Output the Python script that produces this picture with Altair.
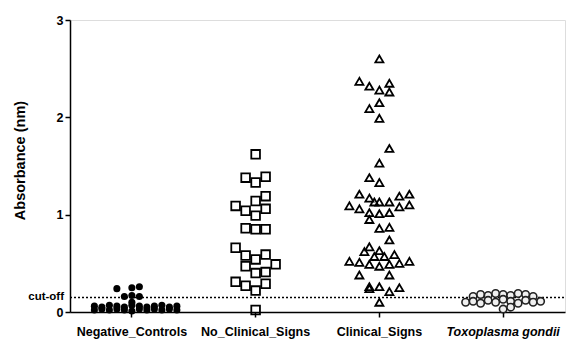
import altair as alt
import pandas as pd

categories = ["Negative_Controls", "No_Clinical_Signs", "Clinical_Signs", "Toxoplasma gondii"]

neg_values = [0.02, 0.03, 0.02, 0.03, 0.02, 0.01, 0.03, 0.02, 0.03, 0.02, 0.03, 0.02,
              0.06, 0.05, 0.07, 0.06, 0.05, 0.07, 0.06, 0.05, 0.06, 0.07, 0.05, 0.06,
              0.24, 0.25, 0.26, 0.16, 0.17, 0.16, 0.10]
neg_slots = [-15, -12, -9, -6, -3, 0, 3, 6, 9, 12, 15, 18,
             -15, -12, -9, -6, -3, 0, 3, 6, 9, 12, 15, 18,
             -6, 0, 3, -3, 0, 3, 0]

ncs_values = [1.62, 1.38, 1.33, 1.39, 1.19, 1.14, 1.09, 1.04, 0.99, 1.06,
              0.86, 0.85, 0.85, 0.66, 0.58, 0.54, 0.59, 0.49, 0.47, 0.40, 0.41,
              0.31, 0.27, 0.22, 0.29, 0.02]
ncs_slots = [0, -4, 0, 4, 4, 0, -8, -4, 0, 4,
             -4, 0, 4, -8, -4, 0, 4, 8, -4, 0, 4,
             -8, -4, 0, 4, 0]

cs_values = [2.60, 2.37, 2.32, 2.28, 2.35, 2.26, 2.09, 2.15, 1.99, 1.68, 1.53,
             1.38, 1.33, 1.21, 1.17, 1.13, 1.13, 1.13, 1.19, 1.21,
             1.09, 1.06, 1.08, 1.10, 1.02, 1.01, 1.02, 0.95, 0.86, 0.87, 0.74,
             0.67, 0.62, 0.63, 0.57, 0.57, 0.59,
             0.52, 0.51, 0.49, 0.47, 0.49, 0.50, 0.52,
             0.38, 0.38, 0.26, 0.24, 0.26, 0.21, 0.25, 0.10]
cs_slots = [0, -8, -4, 0, 4, 4, -4, 0, 0, 4, 0,
            -4, 0, -8, -4, -2, 0, 4, 8, 12,
            -12, -8, 8, 12, -4, 0, 4, -4, 0, 4, 4,
            -4, -6, 0, -2, 2, 6,
            -12, -8, -4, 0, 4, 8, 12,
            -8, 4, -4, -4, 0, 4, 8, 0]

tg_values = [0.16, 0.18, 0.17, 0.19, 0.18, 0.17, 0.19, 0.18, 0.16,
             0.10, 0.11, 0.09, 0.12, 0.10, 0.13, 0.11, 0.09, 0.12, 0.10, 0.11,
             0.03, 0.05]
tg_slots = [-12, -9, -6, -3, 0, 3, 6, 9, 12,
            -15, -12, -9, -6, -3, 0, 3, 6, 9, 12, 15,
            0, 3]

cutoff = 0.15

rows = []
for cat, vals, slots in zip(categories,
                            [neg_values, ncs_values, cs_values, tg_values],
                            [neg_slots, ncs_slots, cs_slots, tg_slots]):
    for v, s in zip(vals, slots):
        rows.append({"group": cat, "value": v, "slot": s})
df = pd.DataFrame(rows)

FONT = "Liberation Sans"

x_enc = alt.X("group:N", sort=categories,
              scale=alt.Scale(domain=categories, paddingInner=0, paddingOuter=0),
              axis=alt.Axis(title=None, labelAngle=0, labelFont=FONT, labelFontSize=12.5,
                            labelFontWeight="bold", labelColor="black",
                            labelFontStyle=alt.expr("datum.value == 'Toxoplasma gondii' ? 'italic' : 'normal'"),
                            labelPadding=8, tickSize=5, tickColor="black", tickWidth=1.5,
                            domainColor="black", domainWidth=1.5, grid=False))
y_enc = alt.Y("value:Q",
              scale=alt.Scale(domain=[0, 3], nice=False),
              axis=alt.Axis(title="Absorbance (nm)", values=[0, 1, 2, 3], format="d",
                            labelFont=FONT, labelFontSize=12.5, labelFontWeight="bold",
                            labelColor="black", tickSize=5, tickColor="black", tickWidth=1.5,
                            domainColor="black", domainWidth=1.5, grid=False,
                            titleFont=FONT, titleFontSize=14.5, titleFontWeight="bold",
                            titleColor="black", titleX=-50, titleY=140,
                            titleBaseline="middle", titleAngle=-90))
off_enc = alt.XOffset("slot:Q", scale=alt.Scale(domain=[-24.75, 24.75], nice=False, zero=False))

base = alt.Chart(df).encode(x=x_enc, y=y_enc, xOffset=off_enc)

neg = base.transform_filter(alt.datum.group == categories[0]).mark_point(
    shape="circle", filled=True, color="black", size=50, opacity=1)
ncs = base.transform_filter(alt.datum.group == categories[1]).mark_point(
    shape="square", filled=False, color="black", size=75, strokeWidth=1.8, opacity=1)
cs = base.transform_filter(alt.datum.group == categories[2]).mark_point(
    shape="triangle-up", filled=False, color="black", size=65, strokeWidth=1.8, opacity=1)
tg = base.transform_filter(alt.datum.group == categories[3]).mark_point(
    shape="circle", filled=True, fill="#f0f0f0", stroke="#222222", size=55, strokeWidth=1.6, opacity=1)

cut_df = pd.DataFrame({"value": [cutoff], "label": ["cut-off"]})
cut_line = alt.Chart(cut_df).mark_rule(color="black", strokeDash=[2, 2], strokeWidth=1.5).encode(
    y=alt.Y("value:Q"), x=alt.value(0), x2=alt.value(495))
cut_text = alt.Chart(cut_df).mark_text(align="right", baseline="middle", font=FONT,
                                       fontSize=11.5, fontWeight="bold", color="black").encode(
    y=alt.Y("value:Q"), x=alt.value(-6), text="label:N")

chart = alt.layer(cut_line, neg, ncs, cs, tg, cut_text).properties(
    width=495, height=292,
    autosize=alt.AutoSizeParams(type="none"),
    padding={"left": 62, "top": 12, "right": 10, "bottom": 30},
).configure_view(stroke=None).configure(background="white")

chart.save("out.html", embed_options={"renderer": "svg", "actions": False})
